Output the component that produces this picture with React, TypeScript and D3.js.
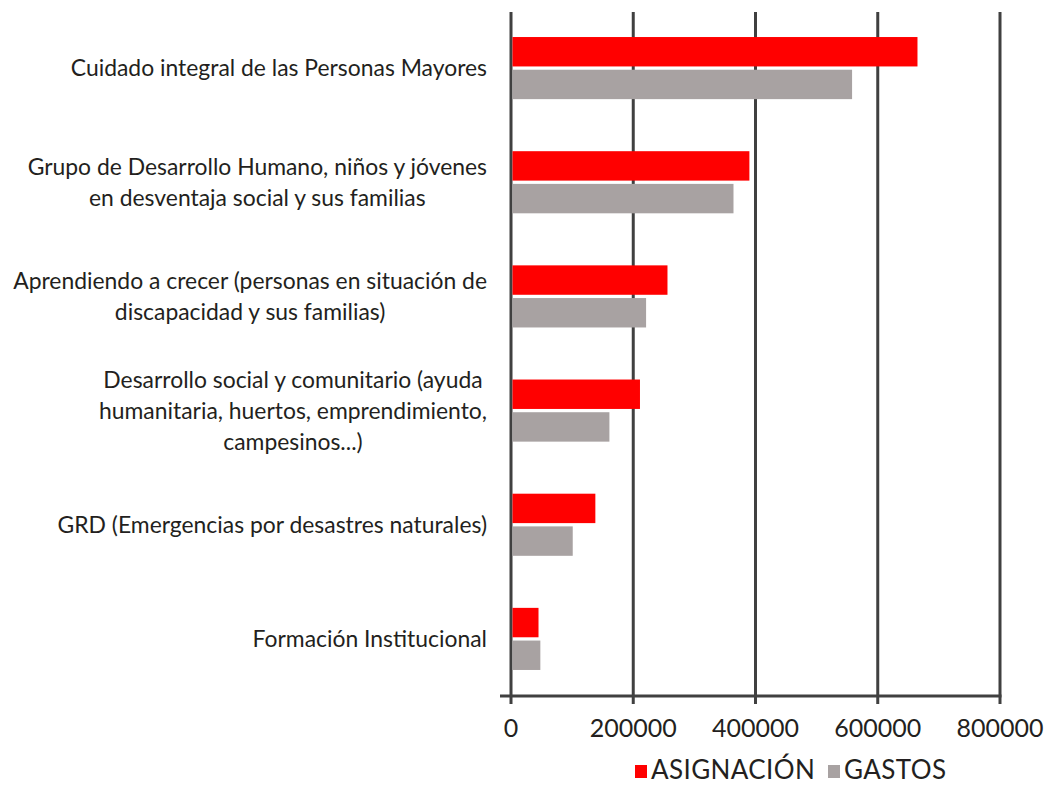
import React, { useEffect, useRef } from "react";
import * as d3 from "d3";

const categories: string[][] = [
  ["Cuidado integral de las Personas Mayores"],
  ["Grupo de Desarrollo Humano, niños y jóvenes", "en desventaja social y sus familias"],
  ["Aprendiendo a crecer (personas en situación de", "discapacidad y sus familias)"],
  ["Desarrollo social y comunitario (ayuda", "humanitaria, huertos, emprendimiento,", "campesinos...)"],
  ["GRD (Emergencias por desastres naturales)"],
  ["Formación Institucional"],
];
const asignacion = [665000, 390000, 256000, 211000, 138000, 45000];
const gastos = [558000, 364000, 221000, 161000, 101000, 48000];
const seriesNames = ["ASIGNACIÓN", "GASTOS"];
const seriesColors = ["#FF0000", "#A8A2A2"];
const xTicks = [0, 200000, 400000, 600000, 800000];

const W = 1053;
const H = 785;
const FONT = "Lato, 'Open Sans', sans-serif";
const TEXT = "#231F20";
const GRID = "#404040";

export default function App() {
  const ref = useRef<SVGSVGElement>(null);

  useEffect(() => {
    const svg = d3.select(ref.current);
    svg.selectAll("*").remove();

    const x = d3.scaleLinear().domain([0, 800000]).range([511, 1000]);
    const idx = categories.map((_, i) => String(i));
    const y0 = d3.scaleBand().domain(idx).range([11, 696]).paddingInner(0.456).paddingOuter(0.228);
    const y1 = d3.scaleBand().domain(seriesNames).range([0, y0.bandwidth()]).paddingInner(0.1);

    // gridlines
    svg.append("g")
      .selectAll("line")
      .data(xTicks)
      .join("line")
      .attr("x1", (d) => x(d))
      .attr("x2", (d) => x(d))
      .attr("y1", 12)
      .attr("y2", 704)
      .attr("stroke", GRID)
      .attr("stroke-width", 3);

    // axis line
    svg.append("line")
      .attr("x1", 500)
      .attr("x2", x(800000) + 1.5)
      .attr("y1", 696)
      .attr("y2", 696)
      .attr("stroke", GRID)
      .attr("stroke-width", 3);

    // bars
    const data = categories.map((_, i) => ({ i: String(i), vals: [asignacion[i], gastos[i]] }));
    const g = svg.append("g")
      .selectAll("g")
      .data(data)
      .join("g")
      .attr("transform", (d) => `translate(0,${y0(d.i)})`);
    g.selectAll("rect")
      .data((d) => d.vals.map((v, k) => ({ v, k })))
      .join("rect")
      .attr("x", x(0) + 1.5)
      .attr("y", (d) => y1(seriesNames[d.k])!)
      .attr("width", (d) => x(d.v) - x(0) - 1.5)
      .attr("height", y1.bandwidth())
      .attr("fill", (d) => seriesColors[d.k]);

    // tick labels
    svg.append("g")
      .selectAll("text")
      .data(xTicks)
      .join("text")
      .attr("x", (d) => x(d))
      .attr("y", 737)
      .attr("text-anchor", "middle")
      .attr("font-family", FONT)
      .attr("font-size", 25)
      .attr("fill", TEXT)
      .text((d) => String(d));

    // category labels
    const rightEdge = 487;
    const lineH = 31;
    categories.forEach((lines, i) => {
      const cy = y0(String(i))! + y0.bandwidth() / 2;
      const t = svg.append("text")
        .attr("font-family", FONT)
        .attr("font-size", 22.9)
        .attr("fill", TEXT)
        .attr("text-anchor", "middle");
      const n = lines.length;
      const spans = lines.map((ln, k) =>
        t.append("tspan")
          .attr("y", cy + (k - (n - 1) / 2) * lineH)
          .attr("dy", "0.35em")
          .text(ln)
      );
      let maxW = 0;
      spans.forEach((s) => {
        const w = (s.node() as SVGTextContentElement).getComputedTextLength();
        if (w > maxW) maxW = w;
      });
      spans.forEach((s) => s.attr("x", rightEdge - maxW / 2));
    });

    // legend
    const legend = svg.append("g");
    const items = [
      { name: seriesNames[0], color: seriesColors[0], x: 635 },
      { name: seriesNames[1], color: seriesColors[1], x: 828 },
    ];
    items.forEach((it) => {
      legend.append("rect")
        .attr("x", it.x)
        .attr("y", 765)
        .attr("width", 12)
        .attr("height", 13)
        .attr("fill", it.color);
      legend.append("text")
        .attr("x", it.x + 16)
        .attr("y", 779)
        .attr("font-family", FONT)
        .attr("font-size", 26)
        .attr("letter-spacing", 0.4)
        .attr("fill", TEXT)
        .text(it.name);
    });
  }, []);

  return (
    <svg
      ref={ref}
      width={W}
      height={H}
      style={{ position: "absolute", left: 0, top: 0, background: "#fff" }}
    />
  );
}
